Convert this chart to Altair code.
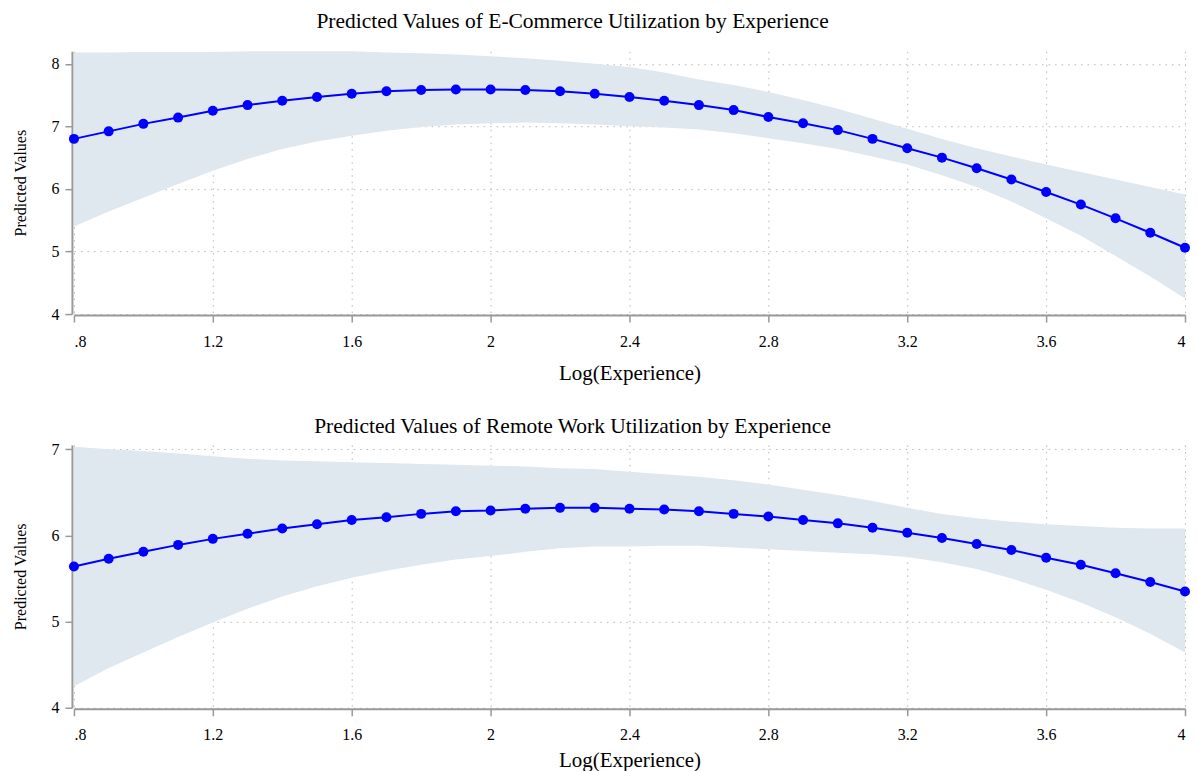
import altair as alt
import pandas as pd

experience = [0.8, 0.9, 1.0, 1.1, 1.2, 1.3, 1.4, 1.5, 1.6, 1.7, 1.8, 1.9, 2.0,
              2.1, 2.2, 2.3, 2.4, 2.5, 2.6, 2.7, 2.8, 2.9, 3.0, 3.1, 3.2, 3.3,
              3.4, 3.5, 3.6, 3.7, 3.8, 3.9, 4.0]

ecom_pred = [6.80, 6.92, 7.04, 7.14, 7.25, 7.34, 7.41, 7.47, 7.52, 7.56, 7.58,
             7.59, 7.59, 7.58, 7.56, 7.52, 7.47, 7.41, 7.34, 7.26, 7.15, 7.05,
             6.94, 6.80, 6.65, 6.50, 6.33, 6.15, 5.95, 5.75, 5.53, 5.30, 5.06]
ecom_upper = [8.18, 8.18, 8.19, 8.19, 8.19, 8.20, 8.20, 8.20, 8.20, 8.18, 8.17,
              8.15, 8.12, 8.09, 8.05, 8.00, 7.95, 7.86, 7.75, 7.66, 7.55, 7.42,
              7.28, 7.12, 6.96, 6.80, 6.65, 6.52, 6.39, 6.27, 6.15, 6.03, 5.91]
ecom_lower = [5.40, 5.64, 5.86, 6.08, 6.29, 6.48, 6.64, 6.76, 6.85, 6.93, 6.99,
              7.03, 7.05, 7.06, 7.05, 7.03, 7.00, 6.98, 6.95, 6.89, 6.81, 6.73,
              6.64, 6.52, 6.39, 6.22, 6.03, 5.80, 5.53, 5.25, 4.93, 4.60, 4.25]

remote_pred = [5.64, 5.73, 5.81, 5.89, 5.96, 6.02, 6.08, 6.13, 6.18, 6.21, 6.25,
               6.28, 6.29, 6.31, 6.32, 6.32, 6.31, 6.30, 6.28, 6.25, 6.22, 6.18,
               6.14, 6.09, 6.03, 5.97, 5.90, 5.83, 5.74, 5.66, 5.56, 5.46, 5.35]
remote_upper = [7.03, 7.00, 6.98, 6.95, 6.92, 6.89, 6.87, 6.86, 6.85, 6.84, 6.83,
                6.82, 6.81, 6.80, 6.78, 6.77, 6.74, 6.71, 6.68, 6.64, 6.59, 6.53,
                6.47, 6.40, 6.32, 6.25, 6.20, 6.16, 6.13, 6.11, 6.09, 6.08, 6.08]
remote_lower = [4.25, 4.46, 4.64, 4.82, 4.99, 5.15, 5.29, 5.41, 5.51, 5.59, 5.66,
                5.72, 5.76, 5.81, 5.85, 5.87, 5.87, 5.88, 5.88, 5.86, 5.84, 5.82,
                5.80, 5.78, 5.75, 5.69, 5.61, 5.50, 5.37, 5.22, 5.05, 4.86, 4.64]

x_ticks = [0.8, 1.2, 1.6, 2.0, 2.4, 2.8, 3.2, 3.6, 4.0]
top_title = "Predicted Values of E-Commerce Utilization by Experience"
bottom_title = "Predicted Values of Remote Work Utilization by Experience"

FONT = "Liberation Serif"
BAND = "#dfe8ee"
BLUE = "#0000ff"
W, H = 1112, 263


def panel(pred, upper, lower, title, y_max, y_ticks, title_offset, xtitle_pad):
    df = pd.DataFrame({"x": experience, "pred": pred, "upper": upper, "lower": lower})
    xs = alt.Scale(domain=[0.8, 4.0], nice=False, zero=False)
    ys = alt.Scale(domain=[4, y_max], nice=False, zero=False)
    x_axis = alt.Axis(values=x_ticks, title="Log(Experience)",
                      labelExpr="datum.value < 1 ? '.8' : datum.label",
                      format="~g", offset=1, titlePadding=xtitle_pad)
    y_axis = alt.Axis(values=y_ticks, title="Predicted Values", format="d", offset=2)
    base = alt.Chart(df)
    band = base.mark_area(color=BAND, opacity=1).encode(
        x=alt.X("x:Q", scale=xs, axis=x_axis),
        y=alt.Y("lower:Q", scale=ys, axis=y_axis),
        y2="upper:Q",
    )
    line = base.mark_line(color=BLUE, strokeWidth=2).encode(
        x=alt.X("x:Q", scale=xs), y=alt.Y("pred:Q", scale=ys))
    pts = base.mark_circle(color=BLUE, size=100, opacity=1).encode(
        x=alt.X("x:Q", scale=xs), y=alt.Y("pred:Q", scale=ys))
    return alt.layer(band, line, pts).properties(
        width=W, height=H,
        title=alt.TitleParams(title, fontSize=21.5, font=FONT, fontWeight="normal",
                              anchor="middle", dx=-57, color="#000",
                              offset=title_offset),
    )


top = panel(ecom_pred, ecom_upper, ecom_lower, top_title, 8.2, [4, 5, 6, 7, 8], 19, 13)
bottom = panel(remote_pred, remote_upper, remote_lower, bottom_title, 7.05, [4, 5, 6, 7], 4, 7)

chart = alt.vconcat(
    top, bottom, spacing=32, background="white",
    padding={"left": 5, "top": 2, "right": 0, "bottom": 0},
).configure_view(
    stroke=None
).configure_axis(
    labelFont=FONT, titleFont=FONT, labelFontSize=16, labelColor="#000",
    titleColor="#000", titleFontWeight="normal",
    domainColor="#999", domainWidth=2, tickColor="#999", tickSize=7, tickWidth=1.5,
    gridColor="#b8b8b8", gridDash=[1.5, 5], gridWidth=1,
).configure_axisX(
    titleFontSize=21, labelPadding=11,
).configure_axisY(
    titleFontSize=16, labelPadding=6, titlePadding=22,
)

chart.save("out.html", embed_options={"renderer": "svg", "actions": False})
